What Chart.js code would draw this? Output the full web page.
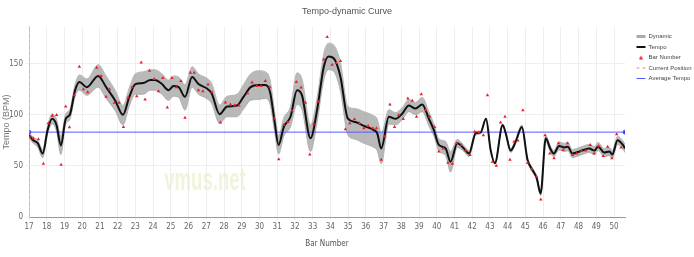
<!DOCTYPE html>
<html>
<head>
<meta charset="utf-8">
<script src="https://cdn.jsdelivr.net/npm/chart.js@4/dist/chart.umd.min.js"></script>
<style>
  html, body { margin: 0; padding: 0; background: #fff; }
  #wrap { width: 694px; height: 257px; }
</style>
</head>
<body>
<div id="wrap"><canvas id="tempoChart" width="694" height="257"></canvas></div>
<script>
// Tempo curve (bar position, BPM)
const tempoBars = [17.0, 17.24, 17.5, 17.77, 18.05, 18.3, 18.55, 18.8, 19.07, 19.3, 19.6, 19.85, 20.26, 20.9, 21.35, 21.86, 22.3, 22.65, 23.0, 23.45, 23.84, 24.1, 24.5, 24.87, 25.15, 25.44, 25.8, 26.2, 26.56, 27.04, 27.3, 27.75, 28.17, 28.73, 29.1, 29.5, 29.96, 30.33, 30.6, 30.84, 31.08, 31.37, 31.75, 32.12, 32.4, 32.88, 33.25, 33.63, 33.9, 34.2, 34.57, 34.98, 35.4, 35.9, 36.45, 36.64, 36.87, 37.3, 37.68, 38.05, 38.43, 38.8, 39.18, 39.56, 39.84, 40.12, 40.5, 40.78, 41.16, 41.53, 41.82, 42.2, 42.47, 42.78, 43.04, 43.28, 43.72, 43.89, 44.17, 44.46, 44.8, 45.12, 45.4, 45.64, 45.86, 46.15, 46.4, 46.6, 46.9, 47.2, 47.4, 47.65, 48.13, 48.6, 48.9, 49.1, 49.45, 49.74, 49.9, 50.2, 50.5, 50.62];
const tempoValues = [80, 75, 72, 62, 85, 96, 90, 70, 96, 100, 124, 132, 127, 138, 127, 114, 100, 117, 130, 131, 134, 134, 130, 124, 128, 127, 117.5, 137, 130, 125.6, 121, 100.6, 108, 109, 117.5, 127, 129, 129, 122, 95, 70.5, 88, 98, 124, 119, 77, 104.5, 147, 157, 155, 137, 96.4, 93, 89, 85, 82, 67, 98, 96, 101, 109, 106, 110, 96, 85, 70.5, 67, 54, 72, 67, 62, 82, 82.5, 96, 65.6, 52.6, 90, 82, 65, 74, 88, 56, 46, 38, 23, 77, 67, 62, 69.5, 68, 68.8, 62, 64.6, 67, 65, 69, 63, 64, 61, 75, 70.5, 67];
// Dynamic band: distance above / below the tempo curve
const dynAbove = [3, 3, 3, 4, 4, 5, 6, 9, 5, 5, 6, 7, 8, 11, 11, 10, 9, 9, 10, 11, 10, 10, 10, 10, 10, 10, 12, 10, 10, 10, 10, 9, 10, 11, 12, 13, 14, 13, 12, 10, 9, 9, 10, 17, 16, 13, 12, 13, 13, 13, 14, 12, 13, 14, 14, 14, 15, 7, 6, 6, 6, 6, 7, 7, 6, 6, 7, 10, 4, 3, 3, 2, 1, 1, 1, 1, 1, 1, 2, 2, 2, 2, 2, 2, 2, 3, 3, 3, 4, 4, 4, 4, 4, 4, 4, 4, 4, 4, 4, 4, 4, 4];
const dynBelow = [3, 3, 4, 4, 4, 5, 6, 9, 5, 5, 6, 8, 8, 11, 11, 10, 10, 9, 10, 11, 10, 10, 10, 10, 10, 10, 13, 10, 10, 10, 10, 9, 10, 11, 12, 13, 14, 13, 12, 10, 9, 9, 10, 14, 14, 13, 12, 13, 13, 13, 14, 16, 17, 17, 17, 17, 15, 7, 6, 6, 6, 6, 7, 7, 6, 6, 7, 10, 4, 3, 3, 2, 1, 1, 1, 1, 1, 1, 2, 2, 2, 2, 2, 2, 2, 3, 3, 3, 4, 4, 4, 4, 4, 4, 4, 4, 4, 4, 4, 4, 4, 4];
// Beat markers ("Bar Number")
const beatBars = [17.05, 17.24, 17.53, 17.81, 18.09, 18.32, 18.56, 18.81, 19.07, 19.28, 19.56, 19.84, 20.07, 20.31, 20.82, 21.07, 21.35, 21.54, 21.82, 22.08, 22.33, 22.59, 22.82, 23.08, 23.33, 23.55, 23.8, 24.06, 24.3, 24.55, 24.8, 25.06, 25.3, 25.57, 25.8, 26.1, 26.32, 26.56, 26.81, 27.1, 27.32, 27.8, 28.08, 28.36, 28.6, 28.85, 29.33, 29.58, 29.86, 30.09, 30.33, 30.58, 30.84, 31.09, 31.37, 31.6, 31.84, 32.08, 32.35, 32.59, 32.84, 33.06, 33.31, 33.63, 33.82, 34.1, 34.34, 34.57, 34.85, 35.1, 35.36, 35.64, 35.89, 36.13, 36.4, 36.6, 36.87, 37.07, 37.36, 37.62, 37.86, 38.11, 38.37, 38.62, 38.86, 39.13, 39.37, 39.6, 39.88, 40.12, 40.37, 40.63, 40.88, 41.12, 41.39, 41.63, 41.88, 42.14, 42.38, 42.63, 42.86, 43.14, 43.36, 43.6, 43.85, 44.13, 44.36, 44.58, 44.86, 45.12, 45.36, 45.63, 45.87, 46.11, 46.38, 46.62, 46.87, 47.13, 47.38, 47.66, 47.9, 48.17, 48.41, 48.66, 48.88, 49.13, 49.39, 49.64, 49.88, 50.15, 50.4];
const beatTempos = [78, 77, 76, 52, 91.6, 99, 99.7, 51, 108, 87.7, 119, 147, 125, 122, 146, 138, 117.5, 125, 111.7, 111.7, 88, 116.5, 127, 118, 151, 115, 143, 135, 123, 136, 107, 136, 127, 133, 97, 141, 141, 124, 123, 129.5, 122, 92.5, 112, 110, 109, 109, 121, 131.5, 128, 128, 133, 127, 96.4, 56.5, 90, 93, 104, 132, 126.6, 111.7, 61, 91, 112.7, 154, 176, 149, 150.6, 152.6, 85.7, 91.6, 95.5, 91.6, 86.7, 89, 86.7, 86.7, 56, 78.6, 110, 88, 99.7, 95.8, 116, 113.6, 98, 120, 104.5, 98, 88, 64, 67, 53, 52, 72, 70.5, 65, 60.7, 83.4, 82.8, 80, 119, 54, 50, 92.5, 98, 56, 73.7, 74.7, 104.5, 53, 46.7, 39.6, 17, 80, 62, 57.5, 72, 65.6, 72, 60.7, 62, 64.6, 65, 70.5, 62, 69.5, 59.7, 68.8, 57.5, 81, 68];
const averageTempo = 83;
const currentBar = 17;
const firstBar = 17;
const lastBar = 50.62;
const yTop = 186;

const tempoPts = tempoBars.map((b, i) => ({ x: b, y: tempoValues[i] }));
const upperPts = tempoBars.map((b, i) => ({ x: b, y: tempoValues[i] + dynAbove[i] }));
const lowerPts = tempoBars.map((b, i) => ({ x: b, y: tempoValues[i] - dynBelow[i] }));
const beatPts = beatBars.map((b, i) => ({ x: b, y: beatTempos[i] }));

// small red marker for the legend (the built-in triangle is too big there)
const miniTri = document.createElement('canvas');
miniTri.width = 5; miniTri.height = 5;
(g => { g.fillStyle = '#e8202a'; g.beginPath(); g.moveTo(2.5, 0.5); g.lineTo(4.5, 4.5); g.lineTo(0.5, 4.5); g.closePath(); g.fill(); })(miniTri.getContext('2d'));

// faint site watermark behind the data
const watermark = {
  id: 'watermark',
  beforeDatasetsDraw(c) {
    const g = c.ctx;
    g.save();
    g.translate(205, 190);
    g.scale(0.58, 1);
    g.font = 'bold 32px "Liberation Sans", sans-serif';
    g.fillStyle = 'rgba(228,238,195,0.6)';
    g.textAlign = 'center';
    g.fillText('vmus.net', 0, 0);
    g.restore();
  }
};

// push the legend down/right to where the original has it
const legendNudge = {
  id: 'legendNudge',
  afterLayout(c) {
    if (!c.legend) return;
    c.legend.left += 7;
    c.legend.right += 7;
    c.legend.top += 29;
    c.legend.bottom += 29;
  }
};

const tickFont = { family: '"Liberation Sans Narrow", "DejaVu Sans Condensed", sans-serif', size: 8 };

new Chart(document.getElementById('tempoChart').getContext('2d'), {
  type: 'line',
  data: {
    datasets: [
      { label: 'Dynamic', data: upperPts, borderColor: '#b8b8b8', backgroundColor: 'rgba(165,165,165,0.78)',
        borderWidth: 1, pointRadius: 0, fill: '+1', cubicInterpolationMode: 'monotone', order: 5 },
      { label: 'dynLow', data: lowerPts, borderColor: '#b8b8b8', borderWidth: 1, pointRadius: 0,
        fill: false, cubicInterpolationMode: 'monotone', order: 5 },
      { label: 'Tempo', data: tempoPts, borderColor: '#111', borderWidth: 2, pointRadius: 0,
        cubicInterpolationMode: 'monotone', fill: false, order: 2 },
      { label: 'Bar Number', data: beatPts, showLine: false, pointStyle: 'triangle', pointRadius: 2,
        backgroundColor: '#e8202a', borderColor: '#e8202a', borderWidth: 0, order: 1 },
      { label: 'Current Position', data: [{ x: currentBar, y: 0 }, { x: currentBar, y: yTop }],
        borderColor: '#f08a8a', borderWidth: 1, borderDash: [3, 3], pointRadius: 0, fill: false, order: 3 },
      { label: 'Average Tempo', data: [{ x: firstBar, y: averageTempo }, { x: lastBar, y: averageTempo }],
        borderColor: '#5a5aff', backgroundColor: '#3a3aff', borderWidth: 1, pointRadius: 2, fill: false, order: 3 }
    ]
  },
  options: {
    responsive: false,
    animation: false,
    layout: { padding: 0 },
    plugins: {
      title: { display: true, text: 'Tempo-dynamic Curve', color: '#555',
        font: { size: 9, weight: 'normal' }, padding: { top: 6, bottom: 10 } },
      legend: {
        position: 'right', align: 'start', maxWidth: 69,
        labels: {
          usePointStyle: true, pointStyleWidth: 9, boxHeight: 5, padding: 4.5, color: '#444',
          font: { size: 6 },
          filter: item => item.text !== 'dynLow',
          generateLabels: ch => ch.data.datasets.map((ds, i) => ({
            text: ds.label, datasetIndex: i, hidden: false,
            pointStyle: ds.label === 'Bar Number' ? miniTri : 'line',
            strokeStyle: ds.label === 'Dynamic' ? '#aaa' : ds.borderColor,
            fillStyle: ds.borderColor,
            lineWidth: ds.label === 'Dynamic' ? 3 : (ds.label === 'Tempo' ? 2 : 1),
            lineDash: ds.borderDash || [],
            fontColor: '#444'
          }))
        }
      },
      tooltip: { enabled: false }
    },
    scales: {
      x: {
        type: 'linear', min: firstBar, max: lastBar,
        ticks: { stepSize: 1, includeBounds: false, color: '#666', font: tickFont, maxRotation: 0, padding: 2 },
        grid: { color: '#eeeeee', tickLength: 3 },
        border: { color: '#999' },
        title: { display: true, text: 'Bar Number', color: '#555', font: { family: tickFont.family, size: 8 }, padding: { top: 4, bottom: 8 } },
        afterFit: s => { s.height = 40; }
      },
      y: {
        min: 0, max: yTop,
        ticks: { stepSize: 50, includeBounds: false, color: '#666', font: tickFont, padding: 3 },
        grid: { color: '#eeeeee', tickLength: 3 },
        border: { color: '#f0c0c0' },
        title: { display: true, text: 'Tempo (BPM)', color: '#777', font: { size: 9 }, padding: 1 },
        afterFit: s => { s.width = 29; }
      }
    }
  },
  plugins: [watermark, legendNudge]
});
</script>
</body>
</html>
